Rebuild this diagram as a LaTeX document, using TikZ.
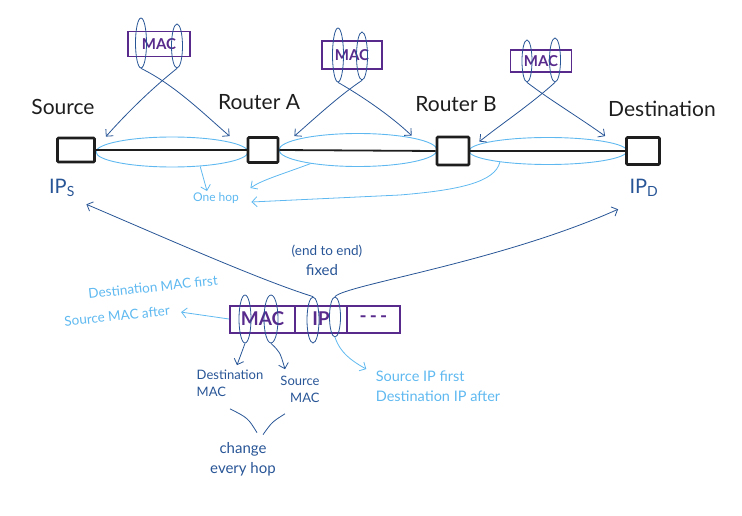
\documentclass[tikz,border=0pt]{standalone}
\usepackage{fontspec}
\setmainfont{Lato}
\usetikzlibrary{arrows.meta,shapes.geometric,calc}
\definecolor{dkblue}{RGB}{40,85,150}
\definecolor{purp}{RGB}{88,42,140}
\definecolor{ltblue}{RGB}{95,185,240}
\definecolor{ink}{RGB}{30,30,30}
\begin{document}
\begin{tikzpicture}[x=1pt,y=-1pt,
  dev/.style={draw=ink,line width=2.8pt,fill=white,rounded corners=1pt,inner sep=0pt},
  link/.style={draw=ink,line width=1.8pt},
  hopell/.style={draw=ltblue,line width=0.9pt,ellipse,inner sep=0pt},
  macell/.style={draw=dkblue,line width=0.8pt,ellipse,inner sep=0pt},
  macbox/.style={draw=purp,line width=1.6pt,text=purp,inner sep=0pt,font=\fontsize{15}{17}\selectfont\bfseries},
  pkt/.style={draw=purp,line width=2pt,text=purp,inner sep=0pt,font=\fontsize{19}{21}\selectfont\bfseries},
  lbl/.style={text=ink,font=\fontsize{21}{24}\selectfont},
  iplbl/.style={text=dkblue,font=\fontsize{20}{24}\selectfont},
  dknote/.style={text=dkblue,font=\fontsize{13.5}{17}\selectfont,align=center},
  ltnote/.style={text=ltblue,font=\fontsize{13.5}{17}\selectfont,align=left},
  dkarrow/.style={draw=dkblue,line width=0.8pt,-{Straight Barb[length=5pt,width=10pt]}},
  ltarrow/.style={draw=ltblue,line width=0.8pt,-{Straight Barb[length=5pt,width=10pt]}},
  dkline/.style={draw=dkblue,line width=0.8pt}]
\useasboundingbox (0,0) rectangle (742,516);

% hop ellipses
\node[hopell,minimum width=152,minimum height=30] (hop1) at (172,152) {};
\node[hopell,minimum width=158,minimum height=33] (hop2) at (358,150) {};
\node[hopell,minimum width=158,minimum height=27] (hop3) at (548,151) {};

% devices
\node[dev,minimum width=37,minimum height=24] (src) at (76,150) {};
\node[dev,minimum width=30,minimum height=25] (ra) at (263,150) {};
\node[dev,minimum width=32,minimum height=28] (rb) at (453,151) {};
\node[dev,minimum width=33,minimum height=27] (dst) at (643,151) {};

% links
\draw[link] (src.east) -- (ra.west);
\draw[link] (ra.east) -- (rb.west);
\draw[link] (rb.east) -- (dst.west);

% device labels
\node[lbl] (srcl) at (63,107) {Source};
\node[lbl] (ral) at (259,102) {Router A};
\node[lbl] (rbl) at (456,104) {Router B};
\node[lbl] (dstl) at (662,109) {Destination};

\node[iplbl] (ips) at (62,188) {IP\textsubscript{S}};
\node[iplbl] (ipd) at (644,188) {IP\textsubscript{D}};

% MAC boxes on top
\node[macbox,minimum width=62,minimum height=25] (mac1) at (159,44) {MAC};
\node[macbox,minimum width=60,minimum height=28] (mac2) at (352,55) {MAC};
\node[macbox,minimum width=61,minimum height=22] (mac3) at (541,61) {MAC};

\node[macell,minimum width=11,minimum height=50] (m1a) at (141,43) {};
\node[macell,minimum width=11,minimum height=44] (m1b) at (177,46) {};
\node[macell,minimum width=11,minimum height=54] (m2a) at (338,55) {};
\node[macell,minimum width=11,minimum height=48] (m2b) at (362,56) {};
\node[macell,minimum width=10,minimum height=42] (m3a) at (527,61) {};
\node[macell,minimum width=11,minimum height=44] (m3b) at (555,60) {};

\draw[dkarrow] (m1a.south) .. controls (175,85) and (205,115) .. ([xshift=-17pt]ra.north west);
\draw[dkarrow] (m1b.south) .. controls (150,90) and (125,115) .. ([xshift=10pt]src.north east);
\draw[dkarrow] (m2a.south) .. controls (360,95) and (390,115) .. ([xshift=-24pt]rb.north west);
\draw[dkarrow] (m2b.south) .. controls (340,95) and (315,118) .. ([xshift=15pt]ra.north east);
\draw[dkarrow] (m3a.south) .. controls (550,100) and (580,118) .. ([xshift=-20pt]dst.north west);
\draw[dkarrow] (m3b.south) .. controls (530,105) and (500,125) .. ([xshift=9pt,yshift=-6pt]rb.north east);

% one hop
\node[text=ltblue,font=\fontsize{12}{14}\selectfont] (onehop) at (216,198) {One hop};
\draw[ltarrow] (hop1.-27) -- ([xshift=-9pt,yshift=-2pt]onehop.north);
\draw[ltarrow] (hop2.196) .. controls (280,175) and (262,180) .. ([xshift=8pt,yshift=1pt]onehop.north east);
\draw[ltarrow] (hop3.193) .. controls (495,182) and (460,190) .. (400,195) -- ([xshift=9pt,yshift=-4pt]onehop.east);

% packet
\node[pkt,minimum width=65,minimum height=27] (pmac) at (262.5,319) {MAC};
\node[pkt,minimum width=52,minimum height=27] (pip) at (321,319) {IP};
\node[pkt,minimum width=53,minimum height=27] (pdots) at (373.5,319) {-\,-\,-};

\node[macell,minimum width=12,minimum height=48] (pe1) at (245,319) {};
\node[macell,minimum width=14,minimum height=48] (pe2) at (271,319) {};
\node[macell,minimum width=12,minimum height=46] (pe3) at (313,320) {};
\node[macell,minimum width=11,minimum height=40] (pe4) at (335,317) {};

\draw[dkarrow] (pe3.north) .. controls (260,280) and (170,240) .. ([xshift=8pt,yshift=-4pt]ips.south east);
\draw[dkarrow] (pe4.north) .. controls (345,285) and (500,262) .. ([xshift=-8pt,yshift=-9pt]ipd.south west);

\node[dknote] (e2e) at (327,251) {(end to end)};
\node[dknote,font=\fontsize{15}{17}\selectfont] (fixed) at (322,270) {fixed};

\node[ltnote,rotate=6] (dmf) at (153,287) {Destination MAC first};
\node[ltnote,rotate=6] (sma) at (117,316) {Source MAC after};
\draw[ltarrow] (pmac.west) -- ([xshift=8pt,yshift=-2pt]sma.east);

\node[dknote,align=left,font=\fontsize{13}{17}\selectfont] (dmac) at (230,383) {Destination\\MAC};
\node[dknote,align=right,font=\fontsize{13}{17}\selectfont] (smac) at (300,389) {Source\\MAC};
\draw[dkarrow] (pe1.south) -- ([xshift=7pt,yshift=1pt]dmac.north);
\draw[dkarrow] (pe2.south) .. controls (280,352) .. ([xshift=-15pt,yshift=3pt]smac.north);

\node[dknote,font=\fontsize{15}{20}\selectfont] (chg) at (243,459) {change\\every hop};
\draw[dkline] ([yshift=-9pt]dmac.south) .. controls (248,418) .. ([xshift=14pt,yshift=6pt]chg.north);
\draw[dkline] ([xshift=-15pt,yshift=-8pt]smac.south) .. controls (272,422) .. ([xshift=20pt,yshift=4pt]chg.north);

\node[ltnote,font=\fontsize{14.5}{20}\selectfont] (sipf) at (438,386) {Source IP first\\Destination IP after};
\draw[ltarrow] (pe4.south) .. controls (340,352) and (350,360) .. ([xshift=-6pt,yshift=-2pt]sipf.north west);
\end{tikzpicture}
\end{document}
